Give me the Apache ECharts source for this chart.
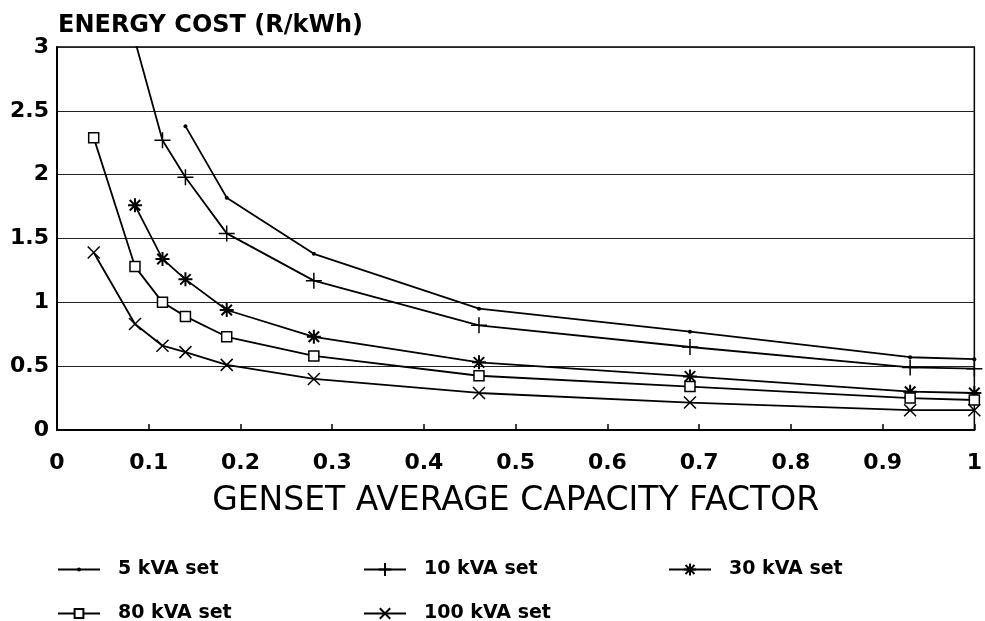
<!DOCTYPE html>
<html>
<head>
<meta charset="utf-8">
<script src="https://cdn.jsdelivr.net/npm/echarts@6/dist/echarts.min.js"></script>
<style>
  html, body { margin: 0; padding: 0; background: #fff; }
  #chart { width: 985px; height: 621px; }
</style>
</head>
<body>
<div id="chart"></div>
<script>
// capacity factor at which each set was costed
const capacityFactor = [0.04, 0.085, 0.115, 0.14, 0.185, 0.28, 0.46, 0.69, 0.93, 1.0];
// energy cost (R/kWh), null where the set has no point
const kva5 = [null, null, null, 2.38, 1.82, 1.38, 0.95, 0.77, 0.57, 0.555];
const kva10 = [null, 3.05, 2.27, 1.98, 1.54, 1.17, 0.82, 0.65, 0.49, 0.48];
const kva30 = [null, 1.76, 1.34, 1.18, 0.94, 0.73, 0.53, 0.42, 0.30, 0.29];
const kva80 = [2.29, 1.28, 1.00, 0.89, 0.73, 0.58, 0.425, 0.34, 0.25, 0.235];
const kva100 = [1.39, 0.83, 0.66, 0.61, 0.51, 0.40, 0.29, 0.215, 0.155, 0.155];
const seriesNames = ['5 kVA set', '10 kVA set', '30 kVA set', '80 kVA set', '100 kVA set'];

const pairs = (ys) => capacityFactor.map((x, i) => [x, ys[i]]).filter((p) => p[1] !== null);

const font = 'DejaVu Sans';
// legendH: legend icon height, the marker there is drawn at 0.8 of it
const symbols = [
  { symbol: 'circle', size: 4, fill: '#000', bw: 0, legendH: 5 },
  { symbol: 'path://M0,8H16M8,0V16', size: 16, fill: '#000', bw: 1.5, legendH: 16 },
  { symbol: 'path://M0,8H16M8,0V16M2,2L14,14M14,2L2,14', size: 14, fill: '#000', bw: 2, legendH: 15 },
  { symbol: 'rect', size: 10, fill: '#fff', bw: 1.5, legendH: 11 },
  { symbol: 'path://M0,0L12,12M12,0L0,12', size: 12, fill: '#000', bw: 1.5, legendH: 13 },
];
const allData = [kva5, kva10, kva30, kva80, kva100];

// legend laid out as 3 columns x 2 rows
const legendPos = [[57, 560], [363, 560], [668, 560], [57, 604], [363, 604]];

const option = {
  backgroundColor: '#fff',
  animation: false,
  textStyle: { fontFamily: font, color: '#000' },
  title: {
    text: 'ENERGY COST (R/kWh)',
    left: 53,
    top: 9,
    textStyle: { fontSize: 24, fontWeight: 'bold', color: '#000', fontFamily: font },
  },
  grid: {
    left: 57,
    right: 8,
    top: 47,
    bottom: 191,
    show: true,
    borderColor: '#000',
    borderWidth: 1.5,
  },
  legend: seriesNames.map((name, i) => ({
    data: [name],
    left: legendPos[i][0],
    top: legendPos[i][1] + 10 - Math.max(10, symbols[i].legendH / 2),
    padding: 0,
    itemWidth: 42,
    itemHeight: symbols[i].legendH,
    selectedMode: false,
    textStyle: {
      fontSize: 19,
      fontWeight: 'bold',
      color: '#000',
      fontFamily: font,
      padding: [0, 0, 0, 13],
    },
  })),
  xAxis: {
    type: 'value',
    min: 0,
    max: 1,
    interval: 0.1,
    name: 'GENSET AVERAGE CAPACITY FACTOR',
    nameLocation: 'middle',
    nameGap: 55,
    nameTextStyle: { fontSize: 33, color: '#000', fontFamily: font },
    axisLine: { show: true, lineStyle: { color: '#000', width: 2 } },
    axisTick: { show: true, inside: true, length: 6, lineStyle: { color: '#000', width: 1.5 } },
    axisLabel: { fontSize: 22, fontWeight: 'bold', color: '#000', margin: 22, fontFamily: font },
    splitLine: { show: false },
  },
  yAxis: {
    type: 'value',
    min: 0,
    max: 3,
    interval: 0.5,
    axisLine: { show: true, lineStyle: { color: '#000', width: 2 } },
    axisTick: { show: false },
    axisLabel: { fontSize: 22, fontWeight: 'bold', color: '#000', margin: 8, fontFamily: font },
    splitLine: { show: true, lineStyle: { color: '#222', width: 1.2 } },
  },
  series: seriesNames.map((name, i) => ({
    name: name,
    type: 'line',
    data: pairs(allData[i]),
    clip: true,
    symbol: symbols[i].symbol,
    symbolSize: symbols[i].size,
    showAllSymbol: true,
    itemStyle: { color: symbols[i].fill, borderColor: '#000', borderWidth: symbols[i].bw },
    lineStyle: { color: '#000', width: 1.8 },
    emphasis: { disabled: true },
  })),
};

const chart = echarts.init(document.getElementById('chart'));
chart.setOption(option);
</script>
</body>
</html>
